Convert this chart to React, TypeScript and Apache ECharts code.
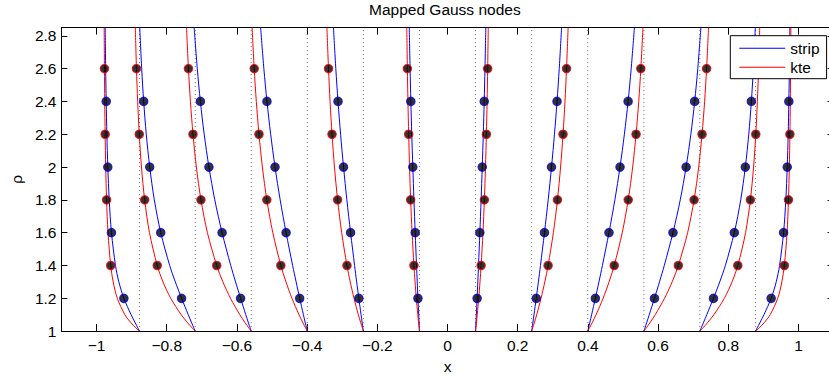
import React, { useEffect, useRef } from 'react';
import * as echarts from 'echarts';

const rhoLevels = [1, 1.02, 1.05, 1.1, 1.2, 1.3, 1.4, 1.6, 1.8, 2.0, 2.2, 2.4, 2.6, 2.85];

// x-position of each mapped node (one row per node), "strip" map
const stripNodeX = [
  [-0.8776, -0.8825, -0.8897, -0.9016, -0.9221, -0.9365, -0.9460, -0.9575, -0.9639, -0.9679, -0.9706, -0.9725, -0.9740, -0.9754],
  [-0.7189, -0.7230, -0.7289, -0.7387, -0.7577, -0.7756, -0.7916, -0.8171, -0.8354, -0.8485, -0.8583, -0.8657, -0.8714, -0.8769],
  [-0.5594, -0.5625, -0.5672, -0.5748, -0.5896, -0.6039, -0.6176, -0.6423, -0.6631, -0.6798, -0.6933, -0.7042, -0.7130, -0.7219],
  [-0.3996, -0.4019, -0.4052, -0.4106, -0.4212, -0.4314, -0.4413, -0.4600, -0.4768, -0.4915, -0.5039, -0.5145, -0.5233, -0.5325],
  [-0.2398, -0.2411, -0.2431, -0.2464, -0.2527, -0.2589, -0.2648, -0.2762, -0.2868, -0.2963, -0.3047, -0.3120, -0.3183, -0.3250],
  [-0.0799, -0.0804, -0.0810, -0.0821, -0.0843, -0.0863, -0.0883, -0.0921, -0.0957, -0.0989, -0.1019, -0.1045, -0.1067, -0.1091],
  [0.0799, 0.0804, 0.0810, 0.0821, 0.0843, 0.0863, 0.0883, 0.0921, 0.0957, 0.0989, 0.1019, 0.1045, 0.1067, 0.1091],
  [0.2398, 0.2411, 0.2431, 0.2464, 0.2527, 0.2589, 0.2648, 0.2762, 0.2868, 0.2963, 0.3047, 0.3120, 0.3183, 0.3250],
  [0.3996, 0.4019, 0.4052, 0.4106, 0.4212, 0.4314, 0.4413, 0.4600, 0.4768, 0.4915, 0.5039, 0.5145, 0.5233, 0.5325],
  [0.5594, 0.5625, 0.5672, 0.5748, 0.5896, 0.6039, 0.6176, 0.6423, 0.6631, 0.6798, 0.6933, 0.7042, 0.7130, 0.7219],
  [0.7189, 0.7230, 0.7289, 0.7387, 0.7577, 0.7756, 0.7916, 0.8171, 0.8354, 0.8485, 0.8583, 0.8657, 0.8714, 0.8769],
  [0.8776, 0.8825, 0.8897, 0.9016, 0.9221, 0.9365, 0.9460, 0.9575, 0.9639, 0.9679, 0.9706, 0.9725, 0.9740, 0.9754],
];

// x-position of each mapped node, "kte" map
const kteNodeX = [
  [-0.8776, -0.8881, -0.9017, -0.9193, -0.9408, -0.9526, -0.9596, -0.9674, -0.9714, -0.9739, -0.9755, -0.9767, -0.9775, -0.9783],
  [-0.7189, -0.7279, -0.7403, -0.7589, -0.7887, -0.8107, -0.8271, -0.8492, -0.8629, -0.8720, -0.8783, -0.8828, -0.8863, -0.8895],
  [-0.5594, -0.5664, -0.5764, -0.5918, -0.6183, -0.6400, -0.6576, -0.6841, -0.7025, -0.7156, -0.7252, -0.7325, -0.7382, -0.7436],
  [-0.3996, -0.4046, -0.4119, -0.4232, -0.4433, -0.4603, -0.4749, -0.4978, -0.5148, -0.5275, -0.5372, -0.5448, -0.5508, -0.5568],
  [-0.2398, -0.2428, -0.2472, -0.2541, -0.2664, -0.2772, -0.2865, -0.3016, -0.3132, -0.3221, -0.3291, -0.3347, -0.3391, -0.3436],
  [-0.0799, -0.0809, -0.0824, -0.0847, -0.0889, -0.0925, -0.0957, -0.1010, -0.1050, -0.1082, -0.1107, -0.1128, -0.1144, -0.1161],
  [0.0799, 0.0809, 0.0824, 0.0847, 0.0889, 0.0925, 0.0957, 0.1010, 0.1050, 0.1082, 0.1107, 0.1128, 0.1144, 0.1161],
  [0.2398, 0.2428, 0.2472, 0.2541, 0.2664, 0.2772, 0.2865, 0.3016, 0.3132, 0.3221, 0.3291, 0.3347, 0.3391, 0.3436],
  [0.3996, 0.4046, 0.4119, 0.4232, 0.4433, 0.4603, 0.4749, 0.4978, 0.5148, 0.5275, 0.5372, 0.5448, 0.5508, 0.5568],
  [0.5594, 0.5664, 0.5764, 0.5918, 0.6183, 0.6400, 0.6576, 0.6841, 0.7025, 0.7156, 0.7252, 0.7325, 0.7382, 0.7436],
  [0.7189, 0.7279, 0.7403, 0.7589, 0.7887, 0.8107, 0.8271, 0.8492, 0.8629, 0.8720, 0.8783, 0.8828, 0.8863, 0.8895],
  [0.8776, 0.8881, 0.9017, 0.9193, 0.9408, 0.9526, 0.9596, 0.9674, 0.9714, 0.9739, 0.9755, 0.9767, 0.9775, 0.9783],
];

// rho values where nodes are marked with dots
const stripDotRho = [1.2, 1.6, 2.0, 2.4];
const kteDotRho = [1.4, 1.8, 2.2, 2.6];

const xTicks = [-1, -0.8, -0.6, -0.4, -0.2, 0, 0.2, 0.4, 0.6, 0.8, 1];
const yTicks = [1, 1.2, 1.4, 1.6, 1.8, 2, 2.2, 2.4, 2.6, 2.8];
const xRange = [-1.1, 1.1];
const yRange = [1, 2.85];

const FONT = '"Liberation Sans", Arial, Helvetica, sans-serif';
const BLUE = '#0000ff';
const RED = '#ff0000';
const FS = 15.5;

const fmt = (v: number) => String(Number(v.toFixed(2))).replace('-', '\u2212');

function buildOption() {
  const series: any[] = [];

  // dotted reference lines at the rho = 1 node positions
  stripNodeX.forEach((row, i) => {
    series.push({
      type: 'line',
      name: 'ref' + i,
      data: [[row[0], yRange[0]], [row[0], yRange[1]]],
      symbol: 'none',
      silent: true,
      lineStyle: { color: '#6a6a6a', width: 1, type: [1, 3] },
      z: 1,
    });
  });

  stripNodeX.forEach((row) => {
    series.push({
      type: 'line',
      name: 'strip',
      data: rhoLevels.map((r, j) => [row[j], r]),
      symbol: 'none',
      smooth: 0.3,
      color: BLUE,
      lineStyle: { color: BLUE, width: 1 },
      z: 2,
    });
  });

  kteNodeX.forEach((row) => {
    series.push({
      type: 'line',
      name: 'kte',
      data: rhoLevels.map((r, j) => [row[j], r]),
      symbol: 'none',
      smooth: 0.3,
      color: RED,
      lineStyle: { color: RED, width: 1 },
      z: 2,
    });
  });

  const stripDots: number[][] = [];
  stripNodeX.forEach((row) => {
    stripDotRho.forEach((r) => {
      stripDots.push([row[rhoLevels.indexOf(r)], r]);
    });
  });
  const kteDots: number[][] = [];
  kteNodeX.forEach((row) => {
    kteDotRho.forEach((r) => {
      kteDots.push([row[rhoLevels.indexOf(r)], r]);
    });
  });

  series.push({
    type: 'scatter',
    name: 'strip nodes',
    data: stripDots,
    symbol: 'circle',
    symbolSize: 8.5,
    itemStyle: { color: '#000', borderColor: BLUE, borderWidth: 1.1 },
    z: 3,
  });
  series.push({
    type: 'scatter',
    name: 'kte nodes',
    data: kteDots,
    symbol: 'circle',
    symbolSize: 8.5,
    itemStyle: { color: '#000', borderColor: RED, borderWidth: 1.1 },
    z: 3,
  });

  const axisLine = { show: true, onZero: false, lineStyle: { color: '#000', width: 1 } };
  const textBase = { color: '#000', fontSize: FS, fontFamily: FONT };

  return {
    animation: false,
    backgroundColor: '#fff',
    title: {
      text: 'Mapped Gauss nodes',
      left: 369,
      top: 1,
      padding: 0,
      textStyle: { ...textBase, fontWeight: 'normal' },
    },
    legend: {
      data: ['strip', 'kte'],
      orient: 'vertical',
      left: 730.3,
      top: 35.7,
      padding: [3, 7, 2, 9],
      itemWidth: 46,
      itemHeight: 1,
      itemGap: 0,
      icon: 'rect',
      backgroundColor: '#fff',
      borderColor: '#000',
      borderWidth: 1,
      borderRadius: 0,
      selectedMode: false,
      textStyle: { ...textBase, lineHeight: 19 },
    },
    grid: { left: 57, top: 27.6, width: 776.6, height: 306.4, containLabel: false },
    xAxis: [
      {
        type: 'value',
        min: xRange[0],
        max: xRange[1],
        position: 'bottom',
        axisLine,
        axisTick: { show: true, inside: true, length: 7, customValues: xTicks, lineStyle: { color: '#000' } },
        axisLabel: { show: true, customValues: xTicks, formatter: fmt, margin: 6, ...textBase },
        splitLine: { show: false },
        name: 'x',
        nameLocation: 'middle',
        nameGap: 25,
        nameTextStyle: textBase,
      },
      {
        type: 'value',
        min: xRange[0],
        max: xRange[1],
        position: 'top',
        axisLine,
        axisTick: { show: true, inside: true, length: 7, customValues: xTicks, lineStyle: { color: '#000' } },
        axisLabel: { show: false },
        splitLine: { show: false },
      },
    ],
    yAxis: [
      {
        type: 'value',
        min: yRange[0],
        max: yRange[1],
        position: 'left',
        axisLine,
        axisTick: { show: true, inside: true, length: 6, customValues: yTicks, lineStyle: { color: '#000' } },
        axisLabel: { show: true, customValues: yTicks, formatter: fmt, margin: 5, ...textBase },
        splitLine: { show: false },
        name: '\u03c1',
        nameLocation: 'middle',
        nameRotate: 90,
        nameGap: 37,
        nameTextStyle: textBase,
      },
      {
        type: 'value',
        min: yRange[0],
        max: yRange[1],
        position: 'right',
        axisLine,
        axisTick: { show: true, inside: true, length: 6, customValues: yTicks, lineStyle: { color: '#000' } },
        axisLabel: { show: false },
        splitLine: { show: false },
      },
    ],
    series,
  };
}

export default function App() {
  const ref = useRef<HTMLDivElement>(null);
  useEffect(() => {
    if (!ref.current) return;
    const chart = echarts.init(ref.current, undefined, { renderer: 'svg' });
    chart.setOption(buildOption() as any);
    return () => chart.dispose();
  }, []);
  return (
    <div style={{ position: 'fixed', left: 0, top: 0, width: 829, height: 379, overflow: 'hidden', background: '#fff' }}>
      <div ref={ref} style={{ width: 840, height: 379 }} />
    </div>
  );
}
